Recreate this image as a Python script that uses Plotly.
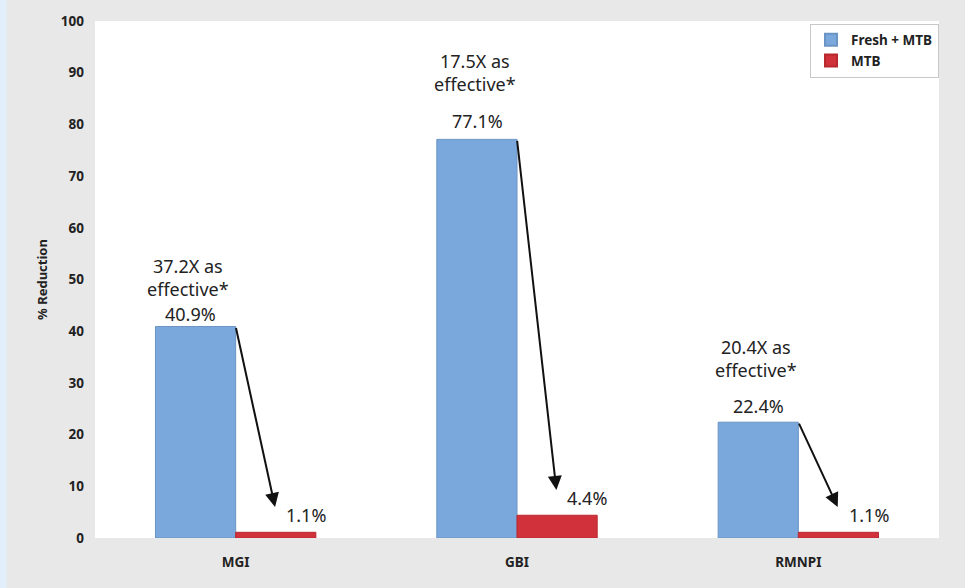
import plotly.graph_objects as go

# Study sites and measured reductions
categories = ["MGI", "GBI", "RMNPI"]
fresh_mtb = [40.9, 77.1, 22.4]
mtb_only = [1.1, 4.4, 1.1]
ratio_labels = ["37.2X as<br>effective*", "17.5X as<br>effective*", "20.4X as<br>effective*"]
y_ticks = [0, 10, 20, 30, 40, 50, 60, 70, 80, 90, 100]

BLUE = "#7aa8dc"
RED = "#d1313a"
TXT = "#222222"
FONT = "Noto Sans"

fig = go.Figure()
fig.add_trace(go.Bar(
    x=categories, y=fresh_mtb, name="Fresh + MTB",
    marker=dict(color=BLUE, line=dict(color="#6a94c4", width=1)),
))
fig.add_trace(go.Bar(
    x=categories, y=mtb_only, name="MTB",
    marker=dict(color=RED, line=dict(color="#b8282f", width=1)),
))

group_w = 0.57
# pixel lifts for the captions above each blue bar
value_lift = [13, 18, 16]
ratio_lift = [49, 67, 64]
label_dx = [-0.16, -0.14, -0.14]

annotations = []
for i, cat in enumerate(categories):
    f = fresh_mtb[i]
    m = mtb_only[i]
    # value label above the blue bar
    annotations.append(dict(
        x=i + label_dx[i], y=f, xref="x", yref="y", text=f"{f}%",
        showarrow=False, yanchor="middle", yshift=value_lift[i],
        font=dict(size=18, color=TXT, family=FONT),
    ))
    # ratio caption above the value label
    annotations.append(dict(
        x=i + label_dx[i] - 0.01, y=f, xref="x", yref="y", text=ratio_labels[i],
        showarrow=False, yanchor="middle", yshift=ratio_lift[i],
        font=dict(size=18, color=TXT, family=FONT),
    ))
    # value label beside the red bar
    annotations.append(dict(
        x=i + 0.25, y=m, xref="x", yref="y", text=f"{m}%",
        showarrow=False, yanchor="middle", yshift=17,
        font=dict(size=18, color=TXT, family=FONT),
    ))
    # arrow from the top of the blue bar down towards the red bar
    annotations.append(dict(
        x=i + 0.14, y=m + 4.9, xref="x", yref="y",
        ax=i, ay=f, axref="x", ayref="y", text="",
        showarrow=True, arrowhead=2, arrowsize=1.4, arrowwidth=2, arrowcolor="#111111",
        standoff=0,
    ))

fig.update_layout(
    width=965, height=588,
    margin=dict(l=95, r=26, t=19, b=50),
    paper_bgcolor="#e8e8e8",
    plot_bgcolor="#ffffff",
    barmode="group",
    bargap=1 - group_w,
    bargroupgap=0,
    showlegend=True,
    legend=dict(
        x=1, y=0.995, xanchor="right", yanchor="top",
        bgcolor="#ffffff", bordercolor="#c8c8c8", borderwidth=1,
        font=dict(size=13.5, color=TXT, family=FONT, weight="bold"),
        itemsizing="constant", tracegroupgap=0, itemwidth=30,
    ),
    annotations=annotations,
    shapes=[dict(type="rect", xref="paper", yref="paper", x0=-0.12, x1=-0.105,
                 y0=-0.2, y1=1.1, fillcolor="#e2eef9", line=dict(width=0), layer="below")],
    xaxis=dict(
        showline=False, ticks="", showgrid=False, ticklabelstandoff=14,
        tickfont=dict(size=13.5, color=TXT, family=FONT, weight="bold"),
    ),
    yaxis=dict(
        range=[0, 100], tickvals=y_ticks, showgrid=False, zeroline=False,
        showline=False, ticks="", ticklabelstandoff=10,
        tickfont=dict(size=13.5, color=TXT, family=FONT, weight="bold"),
        title=dict(text="% Reduction", font=dict(size=13, color=TXT, family=FONT, weight="bold"),
                   standoff=10),
    ),
)

fig.write_html("out.html")
